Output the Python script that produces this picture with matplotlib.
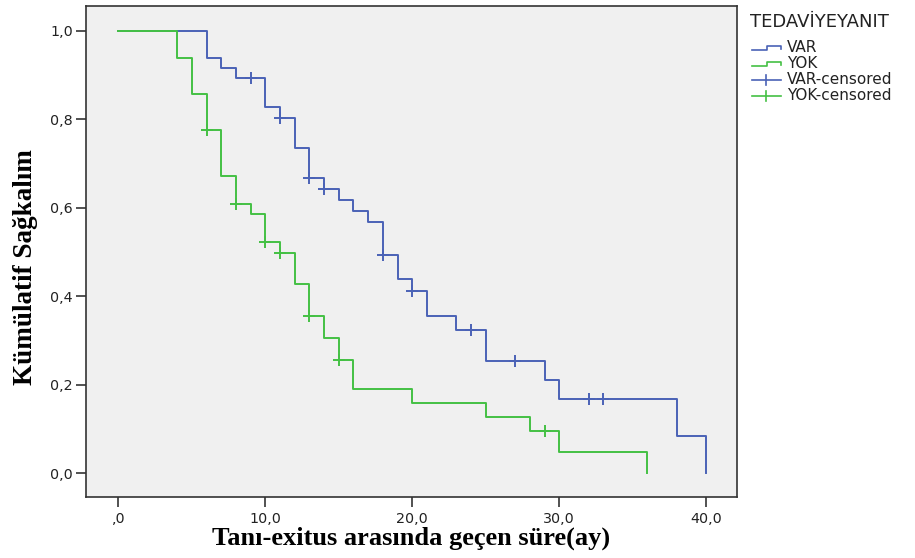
import matplotlib
matplotlib.use("Agg")
import matplotlib.pyplot as plt
from matplotlib.lines import Line2D

# VAR group (blue): step times and survival after each step
var_times = [0, 6, 7, 8, 10, 11, 12, 13, 14, 15, 16, 17, 18, 19, 20, 21, 23, 25, 29, 30, 38, 40]
var_surv = [1.0, 0.939, 0.916, 0.894, 0.828, 0.803, 0.735, 0.667, 0.643, 0.618, 0.594, 0.569,
            0.494, 0.440, 0.413, 0.355, 0.325, 0.253, 0.210, 0.169, 0.084, 0.0]
var_cens_t = [9, 11, 13, 14, 18, 20, 24, 27, 32, 33]
var_cens_s = [0.894, 0.803, 0.667, 0.643, 0.494, 0.413, 0.325, 0.253, 0.169, 0.169]

# YOK group (green)
yok_times = [0, 4, 5, 6, 7, 8, 9, 10, 11, 12, 13, 14, 15, 16, 20, 25, 28, 30, 36]
yok_surv = [1.0, 0.939, 0.858, 0.776, 0.673, 0.609, 0.587, 0.522, 0.499, 0.427, 0.356, 0.305,
            0.255, 0.191, 0.159, 0.128, 0.095, 0.047, 0.0]
yok_cens_t = [6, 8, 10, 11, 13, 15, 29]
yok_cens_s = [0.776, 0.609, 0.522, 0.499, 0.356, 0.255, 0.095]

xticks = [0, 10, 20, 30, 40]
xtick_labels = [",0", "10,0", "20,0", "30,0", "40,0"]
yticks = [0.0, 0.2, 0.4, 0.6, 0.8, 1.0]
ytick_labels = ["0,0", "0,2", "0,4", "0,6", "0,8", "1,0"]

blue = "#4A62B6"
green = "#44C044"
sans = "DejaVu Sans"

fig = plt.figure(figsize=(9.15, 5.58), dpi=100)
ax = fig.add_axes([0.094, 0.109, 0.7115, 0.880])
ax.set_facecolor("#F0F0F0")

ax.step(var_times, var_surv, where="post", color=blue, lw=1.4)
ax.step(yok_times, yok_surv, where="post", color=green, lw=1.4)
ax.plot(var_cens_t, var_cens_s, ls="none", marker="+", ms=8, mew=1.4, color=blue)
ax.plot(yok_cens_t, yok_cens_s, ls="none", marker="+", ms=8, mew=1.4, color=green)

ax.set_xlim(-2.2, 42.1)
ax.set_ylim(-0.054, 1.056)
ax.set_xticks(xticks)
ax.set_xticklabels(xtick_labels, fontfamily=sans, fontsize=10.3, color="#222222")
ax.set_yticks(yticks)
ax.set_yticklabels(ytick_labels, fontfamily=sans, fontsize=10.3, color="#222222")
ax.tick_params(direction="out", length=7.5, width=1.2, color="#333333")
ax.tick_params(axis="x", pad=3.5)
ax.tick_params(axis="y", pad=2.0)
for s in ax.spines.values():
    s.set_linewidth(1.2)
    s.set_color("#333333")

ax.set_xlabel("Tanı-exitus arasında geçen süre(ay)", fontfamily="Liberation Serif",
              fontweight="bold", fontsize=19, labelpad=0)
ax.set_ylabel("Kümülatif Sağkalım", fontfamily="Liberation Serif",
              fontweight="bold", fontsize=19.5, labelpad=8)
ax.yaxis.set_label_coords(-0.073, 0.468)

# Legend (manual)
W, H = 915.0, 558.0
fig.text(750 / W, 1 - 21.7 / H, "TEDAVİYEYANIT", fontfamily=sans,
         fontsize=13, va="center", ha="left", color="#222222")
entries = [("VAR", blue, "step"), ("YOK", green, "step"),
           ("VAR-censored", blue, "cens"), ("YOK-censored", green, "cens")]
ys = [48, 64, 79.5, 95.5]
for (lab, col, kind), yp in zip(entries, ys):
    yf = 1 - yp / H
    x0, x1 = 752 / W, 781 / W
    if kind == "step":
        xs = [x0, 767 / W, 767 / W, x1, x1]
        yy = [yf - 2 / H, yf - 2 / H, yf + 2 / H, yf + 2 / H, yf - 1 / H]
        fig.add_artist(Line2D(xs, yy, color=col, lw=1.2, transform=fig.transFigure))
    else:
        fig.add_artist(Line2D([x0, x1], [yf, yf], color=col, lw=1.2, transform=fig.transFigure))
        fig.add_artist(Line2D([766 / W] * 2, [yf - 5 / H, yf + 5 / H], color=col, lw=1.2,
                              transform=fig.transFigure))
    fig.text(787 / W, yf, lab, fontfamily=sans, fontsize=11,
             va="center", ha="left", color="#222222")

fig.savefig("out.png", dpi=100, facecolor="white")
